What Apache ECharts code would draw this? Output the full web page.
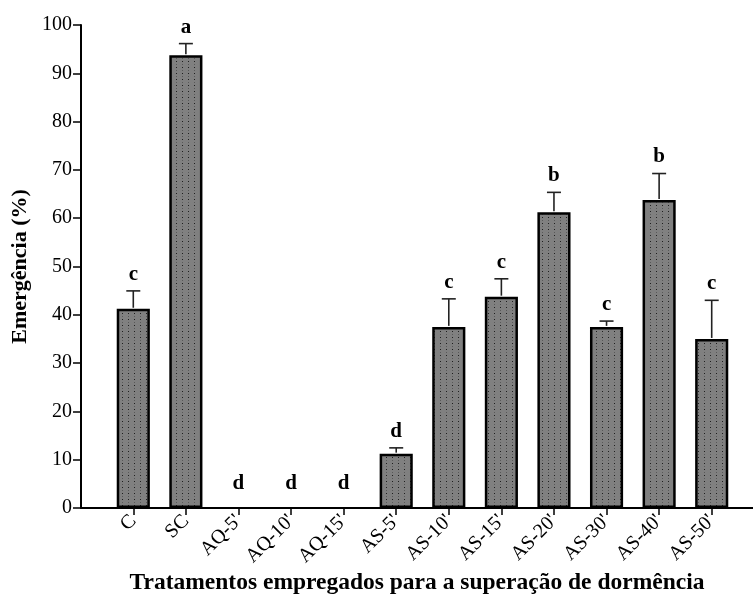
<!DOCTYPE html>
<html>
<head>
<meta charset="utf-8">
<script src="https://cdn.jsdelivr.net/npm/echarts@6/dist/echarts.min.js"></script>
<style>
  html, body { margin: 0; padding: 0; background: #fff; }
  #chart { width: 753px; height: 599px; }
</style>
</head>
<body>
<div id="chart"></div>
<script>
// Treatments, mean emergence (%), standard deviation and Tukey letters
const categories = ['C', 'SC', "AQ-5'", "AQ-10'", "AQ-15'", "AS-5'", "AS-10'", "AS-15'", "AS-20'", "AS-30'", "AS-40'", "AS-50'"];
const means = [41.25, 93.75, 0, 0, 0, 11.25, 37.5, 43.75, 61.25, 37.5, 63.75, 35.0];
const errors = [3.7, 2.4, 0, 0, 0, 1.2, 5.8, 3.7, 4.1, 1.2, 5.5, 8.0];
const letters = ['c', 'a', 'd', 'd', 'd', 'd', 'c', 'c', 'b', 'c', 'b', 'c'];
const yTicks = { min: 0, max: 100, interval: 10 };

const SERIF = '"Liberation Serif", "Times New Roman", serif';

// Stippled gray fill for the bars
function stipple() {
  const c = document.createElement('canvas');
  c.width = 6; c.height = 6;
  const g = c.getContext('2d');
  g.fillStyle = '#808080';
  g.fillRect(0, 0, 6, 6);
  g.fillStyle = '#1e1e1e';
  g.fillRect(2, 1, 1, 1);
  g.fillStyle = '#5a5a5a';
  g.fillRect(2, 4, 1, 1);
  return c;
}

const chart = echarts.init(document.getElementById('chart'), null, { renderer: 'canvas' });

// zero means have no visible bar (no outline either)
const barData = means.map(m => m > 0 ? m : { value: m, itemStyle: { borderWidth: 0 } });
const errData = means.map((m, i) => [i, m, errors[i]]);

chart.setOption({
  animation: false,
  backgroundColor: '#fff',
  grid: [
    { left: 107, right: 15, top: 25, bottom: 91, containLabel: false, outerBoundsMode: 'none' },
    { left: 81, right: 0, top: 25, bottom: 91, containLabel: false, outerBoundsMode: 'none' }
  ],
  xAxis: [
    {
      type: 'category',
      gridIndex: 0,
      data: categories,
      axisLine: { show: false },
      axisTick: { show: true, alignWithLabel: true, length: 7, lineStyle: { color: '#000', width: 1.5 } },
      axisLabel: { rotate: 45, interval: 0, margin: 10, color: '#000', fontFamily: SERIF, fontSize: 20 },
      splitLine: { show: false }
    },
    {
      type: 'value',
      gridIndex: 1,
      min: 0, max: 1,
      axisLine: { show: true, onZero: false, lineStyle: { color: '#000', width: 2 } },
      axisTick: { show: false },
      axisLabel: { show: false },
      splitLine: { show: false },
      name: 'Tratamentos empregados para a superação de dormência',
      nameLocation: 'middle',
      nameGap: 63,
      nameTextStyle: { color: '#000', fontFamily: SERIF, fontSize: 23.5, fontWeight: 'bold' }
    }
  ],
  yAxis: [
    {
      type: 'value',
      gridIndex: 0,
      min: yTicks.min, max: yTicks.max, interval: yTicks.interval,
      offset: 26,
      axisLine: { show: true, lineStyle: { color: '#000', width: 2 } },
      axisTick: { show: true, length: 8, lineStyle: { color: '#000', width: 1.5 } },
      axisLabel: { color: '#000', fontFamily: SERIF, fontSize: 20, margin: 9 },
      splitLine: { show: false },
      name: 'Emergência (%)',
      nameLocation: 'middle',
      nameGap: 40,
      nameTextStyle: { color: '#000', fontFamily: SERIF, fontSize: 22, fontWeight: 'bold' }
    },
    {
      type: 'value',
      gridIndex: 1,
      min: 0, max: 1,
      show: false
    }
  ],
  series: [
    {
      type: 'bar',
      xAxisIndex: 0, yAxisIndex: 0,
      data: barData,
      barWidth: '63%',
      itemStyle: {
        color: { image: stipple(), repeat: 'repeat' },
        borderColor: '#000',
        borderWidth: 2.5
      },
      z: 2
    },
    {
      type: 'custom',
      xAxisIndex: 0, yAxisIndex: 0,
      data: errData,
      encode: { x: 0, y: 1 },
      clip: false,
      z: 3,
      renderItem: function (params, api) {
        const i = api.value(0);
        const m = api.value(1);
        const e = api.value(2);
        const base = api.coord([i, m]);
        const top = api.coord([i, m + e]);
        const children = [];
        if (e > 0) {
          children.push({
            type: 'line',
            shape: { x1: base[0], y1: base[1] - 1, x2: top[0], y2: top[1] },
            style: { stroke: '#222', lineWidth: 1.6 }
          });
          children.push({
            type: 'line',
            shape: { x1: top[0] - 7, y1: top[1], x2: top[0] + 7, y2: top[1] },
            style: { stroke: '#222', lineWidth: 1.6 }
          });
        }
        const gap = m > 0 ? 6 : 14;
        children.push({
          type: 'text',
          style: {
            text: letters[params.dataIndex],
            x: top[0],
            y: top[1] - gap,
            align: 'center',
            verticalAlign: 'bottom',
            font: 'bold 21px ' + SERIF,
            fill: '#000'
          }
        });
        return { type: 'group', children: children };
      }
    }
  ]
});
</script>
</body>
</html>
